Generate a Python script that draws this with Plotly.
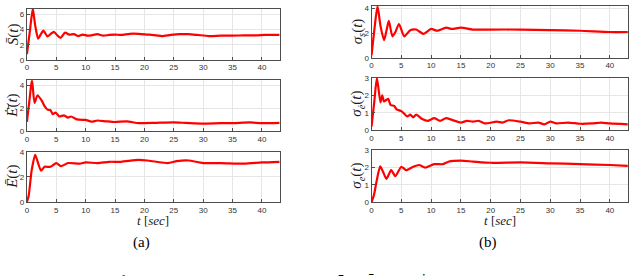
import plotly.graph_objects as go

# ---------------- data ----------------
t_S = [0, 0.5, 1.0, 1.4, 1.9, 2.3, 2.8, 3.5, 4.0, 4.6, 5.1, 5.7, 6.5, 7.2, 8.0, 8.7, 9.5, 10.3, 11.0, 12.0, 13.0, 14.0, 15.0, 16.0, 17.5, 19.0, 20.5, 22.0, 23.0, 24.5, 26.0, 27.5, 29.0, 31.0, 33.0, 35.0, 37.0, 39.0, 40.5, 42.0, 43.0]
S_bar = [0.77, 3.8, 6.8, 4.6, 2.8, 3.3, 3.86, 3.1, 3.4, 3.7, 3.3, 2.9, 3.6, 3.35, 3.4, 3.15, 3.35, 3.2, 3.25, 3.4, 3.2, 3.3, 3.35, 3.3, 3.45, 3.45, 3.35, 3.25, 3.15, 3.3, 3.4, 3.4, 3.3, 3.15, 3.2, 3.2, 3.25, 3.25, 3.3, 3.3, 3.3]

t_Ed = [0, 0.45, 0.85, 1.3, 1.8, 2.5, 3.0, 3.5, 4.0, 4.4, 4.9, 5.5, 6.3, 7.0, 7.5, 8.5, 9.5, 10.0, 11.0, 12.0, 13.5, 15.0, 17.0, 19.0, 22.0, 25.0, 27.0, 30.0, 33.0, 35.0, 38.0, 40.0, 43.0]
Ed_bar = [0.84, 2.8, 4.5, 2.48, 3.15, 2.7, 2.2, 1.9, 1.85, 1.5, 1.65, 1.3, 1.4, 1.2, 1.3, 1.05, 1.0, 1.0, 0.85, 0.95, 0.88, 0.82, 0.88, 0.72, 0.75, 0.78, 0.74, 0.68, 0.72, 0.72, 0.78, 0.72, 0.75]

t_E = [0, 0.3, 0.8, 1.4, 1.9, 2.4, 3.0, 4.0, 5.0, 5.8, 7.0, 9.0, 10.0, 12.0, 14.0, 16.0, 19.0, 20.5, 22.0, 24.0, 25.5, 27.5, 30.0, 33.0, 37.0, 40.0, 43.0]
E_bar = [0.0, 0.5, 2.5, 3.75, 3.1, 2.5, 2.8, 2.8, 3.1, 2.85, 3.1, 3.05, 3.15, 3.1, 3.2, 3.2, 3.35, 3.3, 3.2, 3.1, 3.25, 3.3, 3.1, 3.1, 3.05, 3.15, 3.2]

t_ss = [0, 0.5, 1.0, 1.5, 2.1, 2.5, 2.9, 3.5, 4.0, 4.6, 5.5, 6.5, 7.5, 8.7, 10.0, 11.0, 12.5, 13.5, 15.0, 17.0, 20.0, 25.0, 30.0, 35.0, 40.0, 43.0]
sig_s = [0.2, 2.4, 4.2, 2.6, 1.44, 2.2, 3.0, 1.75, 2.1, 2.75, 1.75, 2.25, 2.3, 1.95, 2.35, 2.2, 2.45, 2.35, 2.45, 2.3, 2.3, 2.3, 2.25, 2.2, 2.1, 2.1]

t_sd = [0, 0.45, 0.9, 1.5, 1.8, 2.1, 2.5, 2.8, 3.2, 3.8, 4.2, 5.0, 5.5, 6.0, 6.5, 7.0, 7.5, 8.5, 9.5, 10.5, 11.5, 12.5, 13.5, 15.0, 16.0, 17.0, 18.0, 19.0, 21.0, 22.0, 23.0, 25.0, 26.5, 28.0, 29.0, 30.0, 31.0, 33.0, 35.0, 37.0, 38.5, 40.0, 43.0]
sig_d = [0.22, 1.6, 3.0, 1.6, 2.0, 1.65, 1.75, 1.8, 1.45, 1.4, 1.2, 1.1, 0.95, 0.8, 0.9, 0.75, 0.9, 0.65, 0.55, 0.7, 0.55, 0.7, 0.6, 0.45, 0.55, 0.5, 0.55, 0.4, 0.5, 0.45, 0.58, 0.5, 0.4, 0.45, 0.35, 0.5, 0.4, 0.45, 0.38, 0.4, 0.45, 0.4, 0.35]

t_se = [0, 0.4, 0.9, 1.45, 2.0, 2.5, 3.3, 4.0, 5.0, 5.8, 7.0, 8.0, 9.0, 10.5, 12.0, 13.0, 15.0, 17.0, 20.0, 25.0, 30.0, 35.0, 40.0, 43.0]
sig_e = [0.0, 0.4, 1.3, 2.07, 1.7, 1.35, 1.85, 1.5, 2.05, 1.85, 2.05, 2.15, 2.0, 2.2, 2.2, 2.35, 2.4, 2.35, 2.28, 2.3, 2.25, 2.2, 2.15, 2.1]

x_ticks = [0, 5, 10, 15, 20, 25, 30, 35, 40]

W, H = 640, 276
panels = [
    (t_S, S_bar, [0, 6.8], [0, 2, 4, 6], "<i>S\u0304</i>(<i>t</i>)", [25, 278.7, 4.7, 57.7]),
    (t_Ed, Ed_bar, [0, 4.47], [0, 2, 4], "<i>E\u0307\u0304</i>(<i>t</i>)", [25, 278.7, 78.7, 131.7]),
    (t_E, E_bar, [0, 4], [0, 2, 4], "<i>E\u0304</i>(<i>t</i>)", [25, 278.7, 152.7, 204.7]),
    (t_ss, sig_s, [0, 4.24], [0, 2, 4], "<i>σ<sub>s</sub></i>(<i>t</i>)", [370.7, 628, 1.7, 55.7]),
    (t_sd, sig_d, [0, 3], [0, 1, 2, 3], "<i>σ<sub>ė</sub></i>(<i>t</i>)", [370.7, 628, 76.3, 130.7]),
    (t_se, sig_e, [0, 3], [0, 1, 2, 3], "<i>σ<sub>e</sub></i>(<i>t</i>)", [370.7, 628, 151.3, 204.7]),
]

fig = go.Figure()
axcol = "#4d4d4d"
tickfont = dict(family="Liberation Sans", size=8, color="#333333")
serif = "Liberation Serif"
annotations = []
for i, (tt, yy, yr, yt, lab, box) in enumerate(panels):
    n = i + 1
    xa = "x" if n == 1 else f"x{n}"
    ya = "y" if n == 1 else f"y{n}"
    fig.add_trace(go.Scatter(x=tt, y=yy, mode="lines", line=dict(color="#ff0000", width=2.2, shape="spline", smoothing=0.6),
                             xaxis=xa, yaxis=ya, showlegend=False, hoverinfo="skip"))
    x0, x1, y0, y1 = box
    common = dict(showline=True, mirror=True, linecolor=axcol, linewidth=1, ticks="inside", ticklen=3,
                  tickcolor=axcol, showgrid=True, gridcolor="#e6e6e6", gridwidth=1, zeroline=False,
                  tickfont=tickfont)
    fig.update_layout(**{
        ("xaxis" if n == 1 else f"xaxis{n}"): dict(domain=[x0 / W, x1 / W], anchor=ya, range=[0, 43.05],
                                                  tickvals=x_ticks, **common),
        ("yaxis" if n == 1 else f"yaxis{n}"): dict(domain=[1 - y1 / H, 1 - y0 / H], anchor=xa, range=yr,
                                                  tickvals=yt, **common),
    })
    annotations.append(dict(text=lab, x=(x0 - 14) / W, y=1 - (y0 + y1) / 2 / H, xref="paper", yref="paper",
                            xanchor="center", yanchor="middle", textangle=-90, showarrow=False,
                            font=dict(family=serif, size=15, color="#1a1a1a")))

for xc in [151.8, 499.3]:
    annotations.append(dict(text="<i>t</i> [<i>sec</i>]", x=xc / W, y=1 - 224 / H, xref="paper", yref="paper",
                            xanchor="center", yanchor="middle", showarrow=False,
                            font=dict(family=serif, size=13, color="#1a1a1a")))
annotations.append(dict(text="(a)", x=140 / W, y=1 - 247 / H, xref="paper", yref="paper", xanchor="center",
                        yanchor="middle", showarrow=False, font=dict(family=serif, size=15, color="#000")))
annotations.append(dict(text="(b)", x=488 / W, y=1 - 247 / H, xref="paper", yref="paper", xanchor="center",
                        yanchor="middle", showarrow=False, font=dict(family=serif, size=15, color="#000")))
# caption, only its very top is inside the picture
annotations.append(dict(text="Fig. 2: The evolution of the averages",
                        x=-22 / W, y=1 - 276.5 / H, xref="paper", yref="paper", xanchor="left", yanchor="top",
                        showarrow=False, font=dict(family=serif, size=15, color="#000")))
annotations.append(dict(text="<i>S\u0304</i>(<i>t</i>), <i>E\u0304</i>(<i>t</i>) and <i>E\u0307\u0304</i>(<i>t</i>) in (a) and the corresponding standard deviations",
                        x=333 / W, y=1 - 276.5 / H, xref="paper", yref="paper", xanchor="left", yanchor="top",
                        showarrow=False, font=dict(family=serif, size=15, color="#000")))

fig.update_layout(width=W, height=H, margin=dict(l=0, r=0, t=0, b=0), paper_bgcolor="white",
                  plot_bgcolor="white", annotations=annotations)
fig.write_html("out.html", config={"displayModeBar": False},
               post_script="document.body.style.margin='0';document.body.style.overflow='hidden';")
